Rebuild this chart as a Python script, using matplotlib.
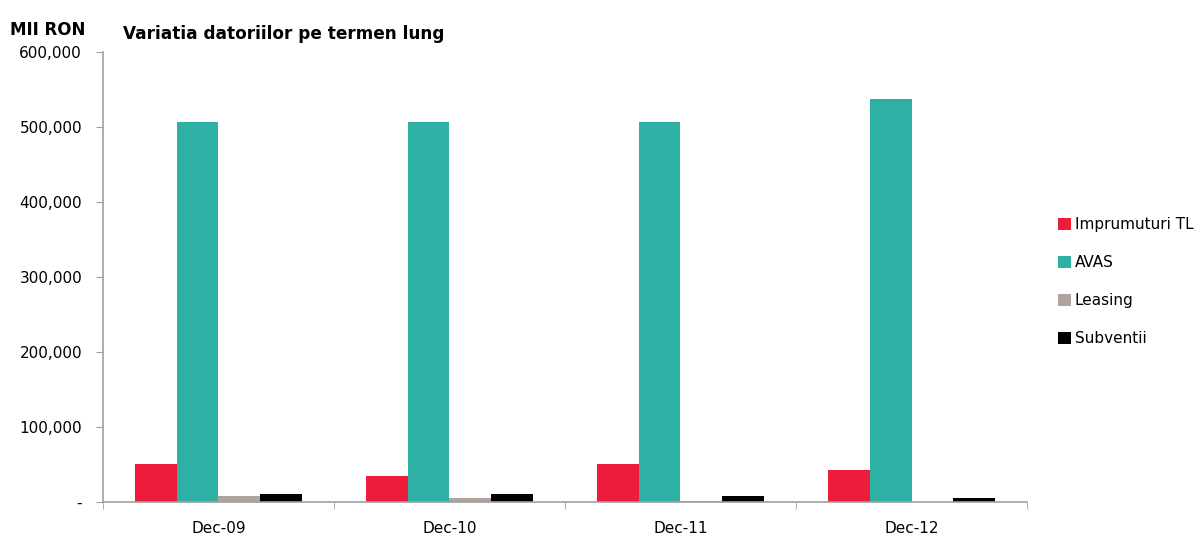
import matplotlib.pyplot as plt
import numpy as np
from matplotlib.ticker import FuncFormatter

# date (mii RON)
categorii = ["Dec-09", "Dec-10", "Dec-11", "Dec-12"]
imprumuturi = [51000, 35000, 51000, 43000]
avas = [507000, 507000, 507000, 537000]
leasing = [8000, 6000, 2000, 0]
subventii = [10500, 10500, 8000, 6000]

serii = ["Imprumuturi TL", "AVAS", "Leasing", "Subventii"]
culori = ["#EE1B3B", "#2EB0A4", "#B0A49C", "#000000"]

plt.rcParams['font.family'] = ['DejaVu Sans']

fig = plt.figure(figsize=(12.04, 5.38), dpi=100)
ax = fig.add_axes([0.0855, 0.0669, 0.7675, 0.8364])

x = np.arange(len(categorii))
w = 0.18
for i, (vals, nume, c) in enumerate(zip([imprumuturi, avas, leasing, subventii], serii, culori)):
    ax.bar(x + (i - 1.5) * w, vals, w, color=c, label=nume)

ax.set_xlim(-0.5, len(categorii) - 0.5)
ax.set_ylim(0, 600000)
ax.set_yticks(np.arange(0, 600001, 100000))
ax.yaxis.set_major_formatter(FuncFormatter(lambda v, p: "-" if v == 0 else f"{int(v):,}"))

ax.set_xticks(x)
ax.set_xticklabels(categorii)
ax.set_xticks(np.arange(-0.5, len(categorii)), minor=True)
ax.tick_params(axis='x', which='major', length=0, pad=14, labelsize=11)
ax.tick_params(axis='x', which='minor', length=5, color='#A0A0A0', direction='out')
ax.tick_params(axis='y', length=5, color='#A0A0A0', labelsize=11, pad=10)

for s in ['top', 'right']:
    ax.spines[s].set_visible(False)
for s in ['left', 'bottom']:
    ax.spines[s].set_color('#A0A0A0')
    ax.spines[s].set_linewidth(1.2)

fig.text(0.008, 0.945, "MII RON", fontsize=12, fontweight='bold', ha='left', va='center')
fig.text(0.102, 0.937, "Variatia datoriilor pe termen lung", fontsize=12.2,
         fontweight='bold', ha='left', va='center')

leg = ax.legend(loc='center left', bbox_to_anchor=(1.027, 0.49), frameon=False,
                fontsize=11, handlelength=0.85, handleheight=0.85, handletextpad=0.25,
                labelspacing=1.5, borderaxespad=0)

fig.savefig("out.png", dpi=100)
